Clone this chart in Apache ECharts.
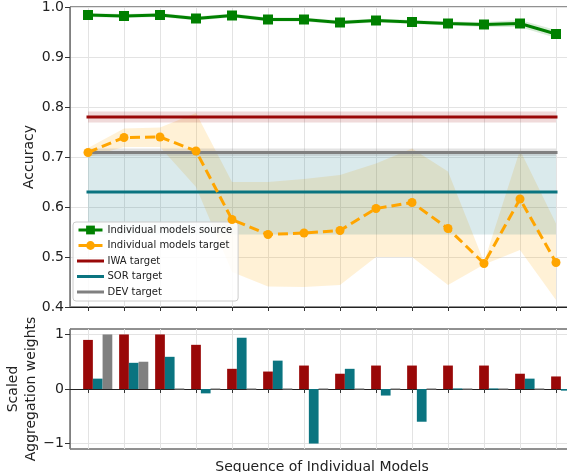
<!DOCTYPE html>
<html><head><meta charset="utf-8">
<script src="https://cdn.jsdelivr.net/npm/echarts@6/dist/echarts.min.js"></script>
<style>html,body{margin:0;padding:0;background:#fff}#c{width:567px;height:472px}</style>
</head><body><div id="c"></div>
<script>
// ---------- data ----------
const models = ['1','2','3','4','5','6','7','8','9','10','11','12','13','14'];
const modelIdx = [0,1,2,3,4,5,6,7,8,9,10,11,12,13];

const sourceAcc   = [0.984,0.982,0.984,0.977,0.983,0.975,0.975,0.969,0.973,0.970,0.967,0.965,0.967,0.946];
const sourceUpper = [0.988,0.986,0.988,0.981,0.987,0.979,0.979,0.973,0.977,0.974,0.971,0.970,0.974,0.954];
const sourceLower = [0.980,0.978,0.980,0.973,0.979,0.971,0.971,0.965,0.969,0.966,0.963,0.960,0.960,0.938];

const targetAcc   = [0.709,0.739,0.740,0.712,0.575,0.545,0.548,0.553,0.597,0.609,0.557,0.487,0.616,0.489];
const targetUpper = [0.718,0.757,0.759,0.788,0.650,0.650,0.656,0.664,0.687,0.717,0.671,0.490,0.714,0.567];
const targetLower = [0.700,0.720,0.720,0.640,0.470,0.441,0.440,0.444,0.500,0.500,0.444,0.485,0.514,0.414];

const iwaTarget = 0.780, iwaLow = 0.769, iwaHigh = 0.791;
const sorTarget = 0.630, sorLow = 0.545, sorHigh = 0.710;
const devTarget = 0.709, devLow = 0.702, devHigh = 0.717;
const lineSpan = [0, 13];

const iwaWeights = [0.90,1.00,1.00,0.81,0.37,0.32,0.43,0.28,0.43,0.43,0.43,0.43,0.28,0.23];
const sorWeights = [0.19,0.48,0.59,-0.08,0.94,0.52,-1.00,0.37,-0.12,-0.60,0,0,0.19,-0.03];
const devWeights = [1.00,0.50,0,0,0,0,0,0,0,0,0,0,0,0];

const weightTicks = [-1,0,1];

// ---------- style ----------
const FONT = 'DejaVu Sans';
const C_GREEN = '#008000', C_ORANGE = '#ffa500', C_RED = '#990808', C_TEAL = '#0a7480', C_GRAY = '#808080';

function band(xs, lower, upper, color, z) {
  return {
    type: 'custom', xAxisIndex: 0, yAxisIndex: 0, z: z, silent: true,
    data: [[0, 0.5]], encode: {x: 0, y: 1},
    renderItem: function (params, api) {
      const pts = [];
      for (let i = 0; i < xs.length; i++) pts.push(api.coord([xs[i], upper[i]]));
      for (let i = xs.length - 1; i >= 0; i--) pts.push(api.coord([xs[i], lower[i]]));
      return {type: 'polygon', shape: {points: pts}, style: {fill: color}};
    }
  };
}
function hline(name, v, color) {
  return {
    name: name, type: 'line', xAxisIndex: 0, yAxisIndex: 0, z: 3,
    data: [[lineSpan[0], v], [lineSpan[1], v]], symbol: 'none',
    lineStyle: {color: color, width: 3, cap: 'square'}, itemStyle: {color: color, opacity: 0}
  };
}
// bars: slot k (0,1,2) to the right of each tick, slot 0 centred on the tick
function bars(name, values, k, color) {
  return {
    name: name, type: 'custom', xAxisIndex: 1, yAxisIndex: 1, z: 3, silent: true,
    data: values.map((v, i) => [i, v]), encode: {x: 0, y: 1},
    renderItem: function (params, api) {
      const i = api.value(0), v = api.value(1);
      const base = api.coord([i, 0]);
      const top = api.coord([i, v]);
      const w = api.size([1, 0])[0] * 0.27;
      const x = base[0] - w / 2 + k * w;
      let y = Math.min(base[1], top[1]);
      let h = Math.abs(top[1] - base[1]);
      if (h < 1) { h = 1.2; y = base[1] - 0.6; }
      return {type: 'rect', shape: {x: x, y: y, width: w, height: h}, style: {fill: color}};
    }
  };
}

const gridLine = {show: true, alignWithLabel: true, lineStyle: {color: '#e3e3e3', width: 1}};
const xCommon = {
  type: 'category', data: models, boundaryGap: true,
  axisLine: {show: true, lineStyle: {color: '#222', width: 1}},
  axisTick: {show: true, alignWithLabel: true, length: 4, lineStyle: {color: '#333'}},
  axisLabel: {show: false},
  splitLine: gridLine
};

const option = {
  animation: false,
  backgroundColor: '#fff',
  textStyle: {fontFamily: FONT},
  grid: [
    {left: 70, top: 7, width: 504, height: 300, show: true, borderColor: '#222', borderWidth: 1,
     backgroundColor: 'transparent', outerBoundsMode: 'none', containLabel: false},
    {left: 70, top: 329, width: 504, height: 120, show: true, borderColor: '#222', borderWidth: 1,
     backgroundColor: 'transparent', outerBoundsMode: 'none', containLabel: false}
  ],
  xAxis: [
    Object.assign({gridIndex: 0}, xCommon),
    Object.assign({gridIndex: 1, name: 'Sequence of Individual Models', nameLocation: 'middle', nameGap: 11,
      nameMoveOverlap: false,
      nameTextStyle: {fontSize: 14, color: '#222', fontFamily: FONT, verticalAlign: 'top'}}, xCommon)
  ],
  yAxis: [
    {gridIndex: 0, type: 'value', min: 0.4, max: 1.0, interval: 0.1,
     name: 'Accuracy', nameLocation: 'middle', nameRotate: 90, nameGap: 34, nameMoveOverlap: false,
     nameTextStyle: {fontSize: 14, color: '#222', fontFamily: FONT},
     axisLine: {show: true, lineStyle: {color: '#808080'}},
     axisTick: {show: true, length: 5, lineStyle: {color: '#333'}},
     axisLabel: {fontSize: 14, color: '#222', margin: 6, fontFamily: FONT, formatter: v => v.toFixed(1)},
     splitLine: {show: true, lineStyle: {color: '#e3e3e3', width: 1}}},
    {gridIndex: 1, type: 'value', min: -1.1, max: 1.1,
     name: 'Scaled\nAggregation weights', nameLocation: 'middle', nameRotate: 90, nameGap: 30, nameMoveOverlap: false,
     nameTextStyle: {fontSize: 14, color: '#222', fontFamily: FONT, lineHeight: 18},
     axisLine: {show: true, lineStyle: {color: '#808080'}},
     axisTick: {show: true, length: 5, customValues: weightTicks, lineStyle: {color: '#333'}},
     axisLabel: {fontSize: 14, color: '#222', margin: 6, fontFamily: FONT, customValues: weightTicks,
       formatter: v => (v < 0 ? '\u2212' + Math.abs(v) : String(v))},
     splitLine: {show: true, lineStyle: {color: '#e3e3e3', width: 1}}}
  ],
  legend: {
    orient: 'vertical', left: 73, top: 222,
    data: ['Individual models source', 'Individual models target', 'IWA target', 'SOR target', 'DEV target'],
    itemWidth: 24, itemHeight: 11, itemGap: 5.5,
    padding: [3, 6, 4, 4],
    backgroundColor: 'rgba(255,255,255,0.85)', borderColor: '#cccccc', borderWidth: 1, borderRadius: 3,
    textStyle: {fontSize: 10, color: '#222', fontFamily: FONT},
    lineStyle: {width: 'inherit'},
    selectedMode: false
  },
  series: [
    band(modelIdx, sourceLower, sourceUpper, 'rgba(0,128,0,0.15)', 1),
    band(modelIdx, targetLower, targetUpper, 'rgba(255,165,0,0.16)', 1),
    band(lineSpan, [iwaLow, iwaLow], [iwaHigh, iwaHigh], 'rgba(153,8,8,0.15)', 1),
    band(lineSpan, [sorLow, sorLow], [sorHigh, sorHigh], 'rgba(10,116,128,0.15)', 1),
    band(lineSpan, [devLow, devLow], [devHigh, devHigh], 'rgba(128,128,128,0.22)', 1),
    hline('IWA target', iwaTarget, C_RED),
    hline('SOR target', sorTarget, C_TEAL),
    hline('DEV target', devTarget, C_GRAY),
    {name: 'Individual models source', type: 'line', xAxisIndex: 0, yAxisIndex: 0, z: 4,
     data: sourceAcc, symbol: 'rect', symbolSize: 10,
     lineStyle: {color: C_GREEN, width: 3}, itemStyle: {color: C_GREEN}},
    {name: 'Individual models target', type: 'line', xAxisIndex: 0, yAxisIndex: 0, z: 5,
     data: targetAcc, symbol: 'circle', symbolSize: 9,
     lineStyle: {color: C_ORANGE, width: 3, type: [10, 5]}, itemStyle: {color: C_ORANGE}},
    bars('IWA weights', iwaWeights, 0, C_RED),
    bars('SOR weights', sorWeights, 1, C_TEAL),
    bars('DEV weights', devWeights, 2, C_GRAY)
  ]
};
const chart = echarts.init(document.getElementById('c'), null, {renderer: 'canvas'});
chart.setOption(option);
</script>
</body></html>
